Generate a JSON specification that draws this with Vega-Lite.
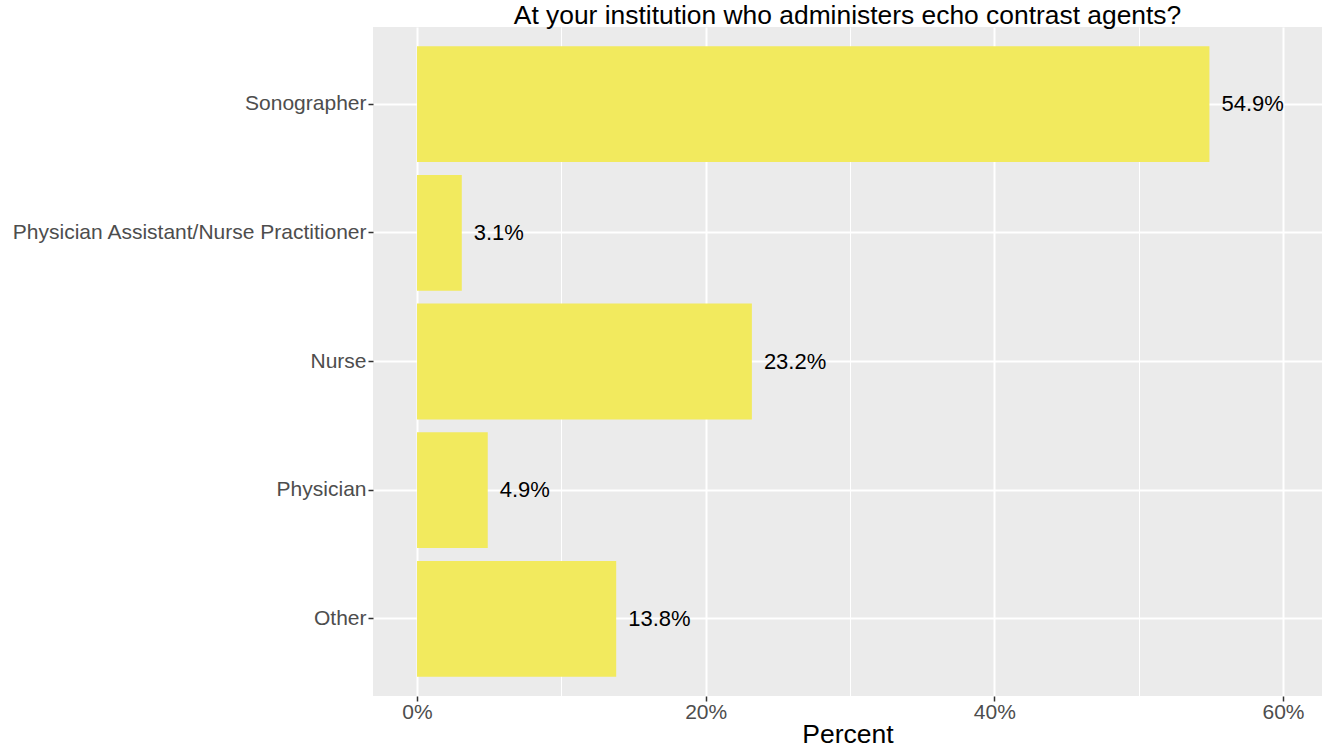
{
  "$schema": "https://vega.github.io/schema/vega-lite/v6.json",
  "autosize": "none",
  "width": 949,
  "height": 669,
  "padding": {"left": 373, "top": 27, "right": 0, "bottom": 56},
  "background": "white",
  "title": {
    "text": "At your institution who administers echo contrast agents?",
    "font": "Liberation Sans",
    "fontSize": 26.4,
    "fontWeight": "normal",
    "color": "black",
    "anchor": "middle",
    "frame": "group",
    "offset": -2
  },
  "config": {
    "view": {"fill": "#EBEBEB", "stroke": null},
    "font": "Liberation Sans"
  },
  "data": {
    "values": [
      {"role": "Sonographer", "pct": 54.9},
      {"role": "Physician Assistant/Nurse Practitioner", "pct": 3.1},
      {"role": "Nurse", "pct": 23.2},
      {"role": "Physician", "pct": 4.9},
      {"role": "Other", "pct": 13.8}
    ]
  },
  "transform": [{"calculate": "format(datum.pct, '.1f') + '%'", "as": "label"}],
  "encoding": {
    "y": {
      "field": "role",
      "type": "nominal",
      "sort": null,
      "scale": {"paddingInner": 0.1, "paddingOuter": 0.15},
      "axis": {
        "title": null,
        "bandPosition": 0.5,
        "grid": true,
        "gridColor": "white",
        "gridWidth": 2,
        "domain": false,
        "tickColor": "#333333",
        "tickSize": 5,
        "tickWidth": 1.5,
        "labelFontSize": 21,
        "labelColor": "#4D4D4D",
        "labelPadding": 2,
        "labelLimit": 400,
        "labelFont": "Liberation Sans"
      }
    }
  },
  "layer": [
    {
      "mark": {"type": "bar", "color": "#F2EA5E"},
      "encoding": {
        "x": {
          "field": "pct",
          "type": "quantitative",
          "scale": {"domain": [-3.05, 62.7], "nice": false, "zero": false},
          "axis": {
            "title": "Percent",
            "titleFontSize": 26.5,
            "titleFontWeight": "normal",
            "titleColor": "black",
            "titlePadding": -1,
            "titleFont": "Liberation Sans",
            "values": [0, 10, 20, 30, 40, 50, 60],
            "labelExpr": "datum.value % 20 == 0 ? datum.value + '%' : ''",
            "labelFontSize": 21,
            "labelColor": "#4D4D4D",
            "labelPadding": 0,
            "labelFont": "Liberation Sans",
            "grid": true,
            "gridColor": "white",
            "gridWidth": {"condition": {"test": "datum.value % 20 != 0", "value": 1}, "value": 2},
            "domain": false,
            "tickColor": "#333333",
            "tickSize": 5,
            "tickWidth": 1.5,
            "tickOpacity": {"condition": {"test": "datum.value % 20 != 0", "value": 0}, "value": 1}
          }
        }
      }
    },
    {
      "mark": {"type": "text", "align": "left", "dx": 12, "fontSize": 22, "color": "black", "font": "Liberation Sans"},
      "encoding": {
        "x": {"field": "pct", "type": "quantitative"},
        "text": {"field": "label"}
      }
    }
  ]
}
